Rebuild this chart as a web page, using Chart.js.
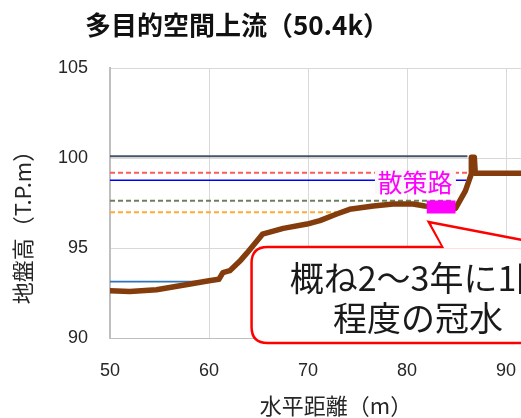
<!DOCTYPE html>
<html>
<head>
<meta charset="utf-8">
<script src="https://cdn.jsdelivr.net/npm/chart.js@4/dist/chart.umd.min.js"></script>
<style>
    html, body { margin: 0; padding: 0; background: #fff; overflow: hidden; }
    #wrap { width: 521px; height: 418px; overflow: hidden; }
</style>
</head>
<body>
<div id="wrap"><canvas id="chart" width="600" height="418"></canvas></div>
<script>
// Ground profile (horizontal distance m, elevation T.P.m)
const groundX = [50, 52, 54.7, 58.1, 60, 61.0, 61.4, 62.1, 63.1, 63.8, 65.4, 67.5, 69.9, 71.2, 72.9, 74.2, 76.6, 78.6, 80.6, 81.8, 84.9, 85.9, 86.5, 86.5, 86.8, 86.9, 95];
const groundY = [92.63, 92.58, 92.68, 93.0, 93.18, 93.26, 93.63, 93.74, 94.26, 94.7, 95.77, 96.09, 96.33, 96.52, 96.89, 97.15, 97.33, 97.44, 97.44, 97.33, 97.2, 98.17, 99.12, 100.04, 100.04, 99.15, 99.15];

// Water levels: elevation and x where each line meets the bank
const levelY = [100.1, 99.18, 98.76, 97.63, 96.98, 93.13];
const levelEndX = [86.1, 86.1, 86.0, 84.5, 72.9, 59.1];

// Promenade (散策路) segment
const pathX = [82.0, 84.9];
const pathY = [97.28, 97.28];

const xTicks = [50, 60, 70, 80, 90];
const yTicks = [90, 95, 100, 105];

const levelStyles = [
    { color: '#44546A', width: 2, dash: [] },
    { color: '#FF5A5A', width: 2, dash: [5, 3] },
    { color: '#0000FF', width: 1.6, dash: [] },
    { color: '#6B7F5C', width: 2, dash: [5, 3] },
    { color: '#FFAA33', width: 2, dash: [5, 3] },
    { color: '#2E75B6', width: 1.6, dash: [] }
];

const JP = '"Noto Sans CJK JP", "Noto Sans", sans-serif';

const datasets = [
    {
        data: pathX.map((x, i) => ({ x, y: pathY[i] })),
        borderColor: '#FF00FF', borderWidth: 13, borderCapStyle: 'butt',
        pointRadius: 0, order: 0
    },
    {
        data: groundX.map((x, i) => ({ x, y: groundY[i] })),
        borderColor: '#843C0C', borderWidth: 5.5, borderJoinStyle: 'round', borderCapStyle: 'round',
        pointRadius: 0, tension: 0, order: 1
    },
    ...levelY.map((y, i) => ({
        data: [{ x: 50, y }, { x: levelEndX[i], y }],
        borderColor: levelStyles[i].color,
        borderWidth: levelStyles[i].width,
        borderDash: levelStyles[i].dash,
        pointRadius: 0, order: 2
    }))
];

function roundRect(ctx, x, y, w, h, r) {
    ctx.beginPath();
    ctx.moveTo(x + r, y);
    ctx.lineTo(x + w - r, y);
    ctx.quadraticCurveTo(x + w, y, x + w, y + r);
    ctx.lineTo(x + w, y + h - r);
    ctx.quadraticCurveTo(x + w, y + h, x + w - r, y + h);
    ctx.lineTo(x + r, y + h);
    ctx.quadraticCurveTo(x, y + h, x, y + h - r);
    ctx.lineTo(x, y + r);
    ctx.quadraticCurveTo(x, y, x + r, y);
    ctx.closePath();
}

// Titles, label and callout
const annotations = {
    id: 'annotations',
    afterDatasetsDraw(chart) {
        const { ctx, scales: { x, y } } = chart;
        ctx.save();
        ctx.textAlign = 'center';
        ctx.textBaseline = 'middle';

        // 散策路 label
        const lx = x.getPixelForValue(80.8), ly = y.getPixelForValue(98.72);
        ctx.fillStyle = '#F8F8F8';
        ctx.fillRect(lx - 40, ly - 11, 81, 24);
        ctx.font = '25px ' + JP;
        ctx.fillStyle = '#FF00FF';
        ctx.fillText('散策路', lx, ly + 1);

        // callout
        const bx = x.getPixelForValue(64.3), by = y.getPixelForValue(95.06);
        const bw = 330, bh = 96;
        const ax = x.getPixelForValue(82.2), ay = y.getPixelForValue(96.44);
        ctx.fillStyle = '#fff';
        ctx.strokeStyle = '#FF0000';
        ctx.lineWidth = 2.5;
        roundRect(ctx, bx, by, bw, bh, 16);
        ctx.fill();
        ctx.stroke();
        ctx.beginPath();
        ctx.moveTo(ax + 14, by);
        ctx.lineTo(ax, ay);
        ctx.lineTo(ax + 130, by);
        ctx.stroke();
        ctx.beginPath();
        ctx.moveTo(ax + 15.5, by + 1.5);
        ctx.lineTo(ax + 3, ay + 3);
        ctx.lineTo(ax + 126, by + 1.5);
        ctx.closePath();
        ctx.fill();
        ctx.font = '34px ' + JP;
        ctx.fillStyle = '#1a1a1a';
        ctx.fillText('概ね2～3年に1回', 420, by + 31);
        ctx.fillText('程度の冠水', 418, by + 71);

        // chart title
        ctx.font = 'bold 26px ' + JP;
        ctx.fillStyle = '#111';
        ctx.fillText('多目的空間上流（50.4k）', 237, 25);

        // axis titles
        ctx.font = '22px ' + JP;
        ctx.fillStyle = '#262626';
        ctx.fillText('水平距離（m）', 336, 406);
        ctx.translate(23, 222);
        ctx.rotate(-Math.PI / 2);
        ctx.fillText('地盤高（T.P.m）', 0, 0);
        ctx.restore();
    }
};

new Chart(document.getElementById('chart'), {
    type: 'line',
    data: { datasets },
    options: {
        responsive: false,
        animation: false,
        layout: { padding: { top: 68, right: 44.5, left: 0, bottom: 0 } },
        plugins: { legend: { display: false }, tooltip: { enabled: false } },
        scales: {
            x: {
                type: 'linear', min: 50, max: 95,
                afterBuildTicks: s => { s.ticks = xTicks.map(v => ({ value: v })); },
                afterFit: s => { s.height = 80; },
                grid: { color: '#D9D9D9', drawTicks: false },
                border: { color: '#BFBFBF', width: 1 },
                ticks: { padding: 22, color: '#262626', font: { family: 'Liberation Sans', size: 18 } }
            },
            y: {
                min: 90, max: 105,
                afterBuildTicks: s => { s.ticks = yTicks.map(v => ({ value: v })); },
                afterFit: s => { s.width = 110; },
                grid: { color: '#D9D9D9', drawTicks: false },
                border: { color: '#BFBFBF', width: 2 },
                ticks: { padding: 22, color: '#262626', font: { family: 'Liberation Sans', size: 18 } }
            }
        }
    },
    plugins: [annotations]
});
</script>
</body>
</html>
